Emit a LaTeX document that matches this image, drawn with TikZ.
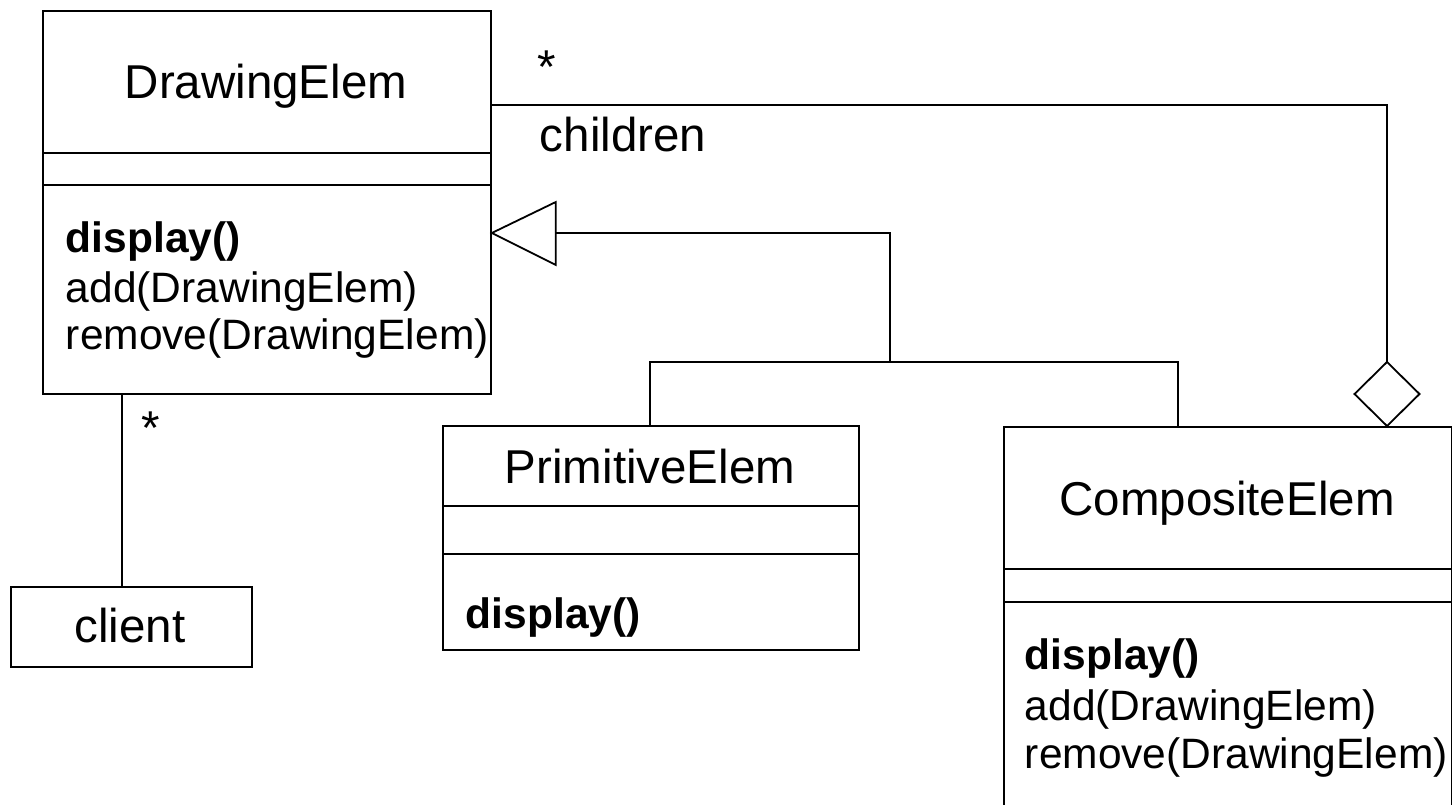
\documentclass[tikz,border=0pt]{standalone}
\usepackage{fontspec}
\setmainfont{Liberation Sans}
\usetikzlibrary{calc}
\newcommand\clsfont{\fontsize{47.5}{55}\selectfont}
\newcommand\opfont{\fontsize{42.5}{48}\selectfont}
\begin{document}
\begin{tikzpicture}[x=1pt,y=-1pt,line width=1.8pt,
  classbox/.style={draw,rectangle,inner sep=0pt,anchor=north west},
  clsname/.style={anchor=base,inner sep=0pt,font=\clsfont},
  op/.style={anchor=base west,inner sep=0pt,font=\opfont},
  mult/.style={inner sep=0pt,font=\clsfont}]
\useasboundingbox (0,0) rectangle (1452,805);

% class boxes
\node[classbox,minimum width=448pt,minimum height=383pt] (de) at (42,10) {};
\node[classbox,minimum width=416pt,minimum height=224pt] (pe) at (442,425) {};
\node[classbox,minimum width=448pt,minimum height=420pt] (ce) at (1003,426) {};
\node[classbox,minimum width=241pt,minimum height=80pt] (cl) at (10,586) {};

% compartment separators
\draw (de.west |- 0,153) -- (de.east |- 0,153);
\draw (de.west |- 0,185) -- (de.east |- 0,185);
\draw (pe.west |- 0,506) -- (pe.east |- 0,506);
\draw (pe.west |- 0,554) -- (pe.east |- 0,554);
\draw (ce.west |- 0,569) -- (ce.east |- 0,569);
\draw (ce.west |- 0,602) -- (ce.east |- 0,602);

% class names
\node[clsname] (deName) at (266,99) {DrawingElem};
\node[clsname] (peName) at (650,483) {PrimitiveElem};
\node[clsname] (ceName) at (1227,515) {CompositeElem};
\node[clsname] (clName) at (130,642) {client};

% operations
\node[op] (deOp1) at (65,253) {\textbf{display()}};
\node[op] (deOp2) at (65,302) {add(DrawingElem)};
\node[op] (deOp3) at (65,349) {remove(DrawingElem)};
\node[op] (peOp1) at (465,628) {\textbf{display()}};
\node[op] (ceOp1) at (1024,669) {\textbf{display()}};
\node[op] (ceOp2) at (1024,720) {add(DrawingElem)};
\node[op] (ceOp3) at (1024,768) {remove(DrawingElem)};

% client association
\draw (122,0 |- de.south) -- (122,0 |- cl.north);
\node[mult] (cliMult) at (151,428) {*};

% generalization
\coordinate (tip) at (de.east |- 0,233);
\coordinate (base) at ($(tip)+(64,0)$);
\coordinate (joint) at (890,362);
\draw[fill=white,line join=miter] (tip) -- ++(64,-31) -- ++(0,63) -- cycle;
\draw (joint) |- (base);
\draw (650,0 |- pe.north) |- (joint) -| (1178,0 |- ce.north);

% aggregation
\coordinate (dbot) at (1387,0 |- ce.north);
\coordinate (dtop) at ($(dbot)+(0,-64)$);
\draw[fill=white,line join=miter] (dbot) -- ++(-32.5,-32) -- ++(32.5,-32) -- ++(32.5,32) -- cycle;
\draw (dtop) |- (de.east |- 0,105);
\node[mult] (aggMult) at (547,67) {*};
\node[anchor=base west,inner sep=0pt,font=\clsfont] (role) at (539,152) {children};
\end{tikzpicture}
\end{document}
